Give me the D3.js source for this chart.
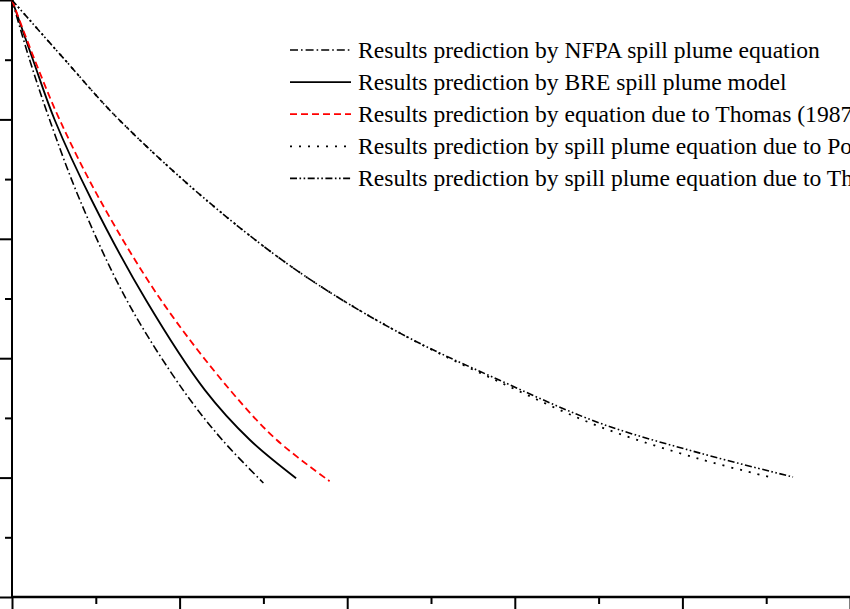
<!DOCTYPE html>
<html>
<head>
<meta charset="utf-8">
<script src="https://cdn.jsdelivr.net/npm/d3@7"></script>
<style>
  body { margin: 0; background: #fff; }
  svg { display: block; }
</style>
</head>
<body>
<svg id="chart" width="850" height="609"></svg>
<script>
// values, in tick units (x: 0..10, y: 0..10)
const nfpaX = [0, 0.21, 0.45, 0.81, 1.37, 2.04, 2.51, 3.00];
const nfpaY = [10, 9.00, 7.99, 6.65, 4.97, 3.47, 2.63, 1.91];

const breX = [0, 0.25, 0.51, 0.95, 1.60, 2.30, 2.84, 3.39];
const breY = [10, 9.00, 7.99, 6.65, 4.97, 3.47, 2.63, 1.99];

const thomas87X = [0, 0.27, 0.57, 1.05, 1.78, 2.60, 3.16, 3.79];
const thomas87Y = [10, 9.00, 7.99, 6.65, 4.97, 3.47, 2.63, 1.94];

const porehX = [0, 0.63, 1.26, 2.36, 3.44, 4.63, 5.82, 7.02, 8.21, 9.10];
const porehY = [10, 9.00, 8.02, 6.60, 5.43, 4.42, 3.60, 2.85, 2.31, 1.99];

const thomas98X = [0, 0.63, 1.26, 2.36, 3.44, 4.63, 5.82, 7.02, 8.21, 9.32];
const thomas98Y = [10, 9.00, 8.02, 6.60, 5.43, 4.42, 3.63, 2.91, 2.41, 2.01];

const majorTicks = [0, 2, 4, 6, 8, 10];
const minorTicks = [1, 3, 5, 7, 9];

const legendLabels = [
  'Results prediction by NFPA spill plume equation',
  'Results prediction by BRE spill plume model',
  'Results prediction by equation due to Thomas (1987)',
  'Results prediction by spill plume equation due to Poreh et al. (1998)',
  'Results prediction by spill plume equation due to Thomas et al. (1998)'
];

const series = [
  {xs: nfpaX, ys: nfpaY, color: '#000', dash: '8,3,1.6,3', width: 1.6},
  {xs: breX, ys: breY, color: '#000', dash: null, width: 1.8},
  {xs: thomas87X, ys: thomas87Y, color: '#ff0000', dash: '7,4', width: 1.8},
  {xs: porehX, ys: porehY, color: '#000', dash: '2,7', width: 1.8},
  {xs: thomas98X, ys: thomas98Y, color: '#000', dash: '7,2.5,1.6,2.5,1.6,2.5', width: 1.6}
];

const svg = d3.select('#chart');

const x = d3.scaleLinear().domain([0, 10]).range([12, 850]);
const y = d3.scaleLinear().domain([0, 10]).range([597, 0]);

// axes: long major ticks, short minor ticks, no labels (cropped away)
function drawAxis(axis, transform) {
  const g = svg.append('g')
      .attr('transform', transform)
      .call(axis);
  g.selectAll('.tick line').attr('stroke', '#000').attr('stroke-width', 2);
  g.select('.domain').remove();
  return g;
}

drawAxis(d3.axisBottom(x).tickValues(majorTicks).tickSize(13).tickFormat(''), 'translate(0,597)');
drawAxis(d3.axisBottom(x).tickValues(minorTicks).tickSize(7).tickFormat(''), 'translate(0,597)');
drawAxis(d3.axisLeft(y).tickValues(majorTicks).tickSize(13).tickFormat(''), 'translate(12,0)');
drawAxis(d3.axisLeft(y).tickValues(minorTicks).tickSize(7).tickFormat(''), 'translate(12,0)');

svg.append('line')
    .attr('x1', x(0)).attr('x2', x(10))
    .attr('y1', y(0)).attr('y2', y(0))
    .attr('stroke', '#000').attr('stroke-width', 2.4);

svg.append('line')
    .attr('x1', x(0)).attr('x2', x(0))
    .attr('y1', y(0)).attr('y2', y(10))
    .attr('stroke', '#000').attr('stroke-width', 2);

const line = d3.line()
    .x(d => x(d[0]))
    .y(d => y(d[1]))
    .curve(d3.curveCatmullRom.alpha(0.5));

series.forEach(s => {
  svg.append('path')
      .datum(s.xs.map((v, i) => [v, s.ys[i]]))
      .attr('d', line)
      .attr('fill', 'none')
      .attr('stroke', s.color)
      .attr('stroke-width', s.width)
      .attr('stroke-dasharray', s.dash);
});

// legend
const legend = svg.append('g');
const rows = legend.selectAll('.row')
    .data(series)
    .enter()
    .append('g')
    .attr('class', 'row')
    .attr('transform', (d, i) => 'translate(0,' + (50 + i * 32.1) + ')');

rows.append('line')
    .attr('x1', 290).attr('x2', 351)
    .attr('y1', 0).attr('y2', 0)
    .attr('stroke', d => d.color)
    .attr('stroke-width', d => d.width)
    .attr('stroke-dasharray', d => d.dash);

rows.append('text')
    .attr('x', 358)
    .attr('y', 7.5)
    .style('font-family', '"Liberation Serif", "Times New Roman", serif')
    .style('font-size', '23.6px')
    .attr('fill', '#000')
    .text((d, i) => legendLabels[i]);
</script>
</body>
</html>
